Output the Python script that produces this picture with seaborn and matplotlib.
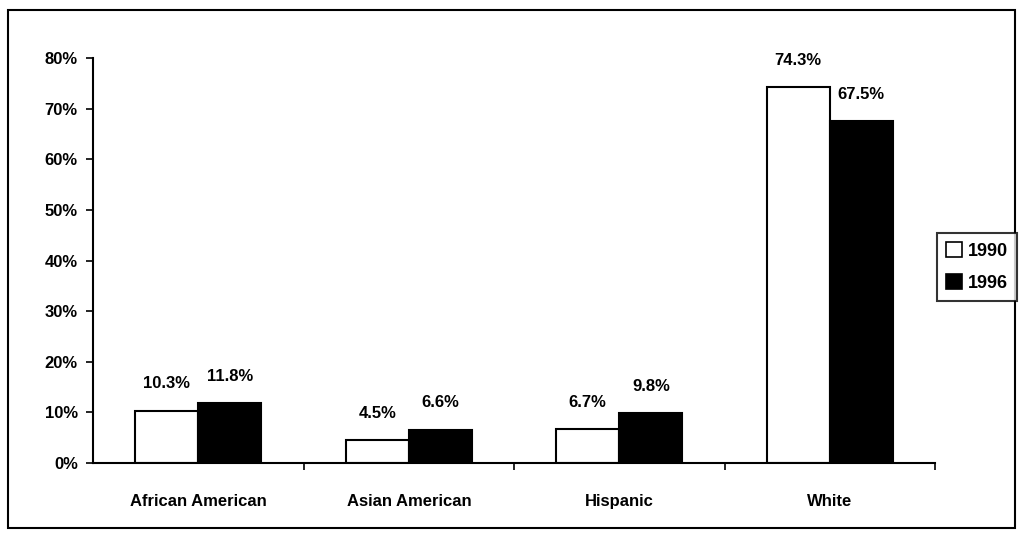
import matplotlib
matplotlib.use("Agg")
import matplotlib.pyplot as plt
from matplotlib.patches import Rectangle, Patch
import seaborn as sns
import pandas as pd

groups = ["African American", "Asian American", "Hispanic", "White"]
years = ["1990", "1996"]
share_1990 = [10.3, 4.5, 6.7, 74.3]
share_1996 = [11.8, 6.6, 9.8, 67.5]
yticks = [0, 10, 20, 30, 40, 50, 60, 70, 80]

df = pd.DataFrame({
    "group": groups * 2,
    "year": [years[0]] * len(groups) + [years[1]] * len(groups),
    "share": share_1990 + share_1996,
})

sns.set_theme(style="white")
plt.rcParams["font.family"] = ["Liberation Sans", "DejaVu Sans"]
plt.rcParams["font.weight"] = "bold"
plt.rcParams["text.color"] = "black"
plt.rcParams["xtick.color"] = "black"
plt.rcParams["ytick.color"] = "black"
plt.rcParams["axes.labelcolor"] = "black"

fig = plt.figure(figsize=(10.23, 5.39), dpi=100)
ax = fig.add_axes([0.091, 0.141, 0.823, 0.751])

palette = {"1990": "white", "1996": "black"}
sns.barplot(data=df, x="group", y="share", hue="year", palette=palette,
            width=0.6, edgecolor="black", linewidth=1.5, saturation=1,
            ax=ax, legend=False)

for container in ax.containers:
    ax.bar_label(container, labels=[f"{v:.1f}%" for v in container.datavalues],
                 padding=14, fontsize=12, fontweight="bold", color="black")

ax.set_xlim(-0.5, len(groups) - 0.5)
ax.set_ylim(0, 80)
ax.set_yticks(yticks)
ax.set_yticklabels([f"{t}%" for t in yticks], fontsize=12, fontweight="bold")
ax.set_xticks(range(len(groups)))
ax.set_xticklabels(groups, fontsize=12, fontweight="bold")
ax.set_xticks([i + 0.5 for i in range(len(groups))], minor=True)
ax.tick_params(axis="x", which="major", length=0, pad=22)
ax.tick_params(axis="x", which="minor", direction="out", length=5, width=1.2, color="black", bottom=True)
ax.tick_params(axis="y", direction="out", length=5, width=1.2, color="black", left=True, pad=6)
ax.set_xlabel("")
ax.set_ylabel("")

for side in ["top", "right"]:
    ax.spines[side].set_visible(False)
for side in ["left", "bottom"]:
    ax.spines[side].set_color("black")
    ax.spines[side].set_linewidth(1.5)

handles = [Patch(facecolor=palette[y], edgecolor="black", linewidth=1.2, label=y) for y in years]
leg = fig.legend(handles=handles, loc="center left", bbox_to_anchor=(0.916, 0.505),
                 frameon=True, fancybox=False, edgecolor="black", fontsize=13,
                 handlelength=0.9, handleheight=0.9, handletextpad=0.3,
                 borderpad=0.5, labelspacing=0.8, borderaxespad=0)
leg.get_frame().set_linewidth(1.5)
for t in leg.get_texts():
    t.set_fontweight("bold")
    t.set_color("black")

fig.patches.append(Rectangle((0.008, 0.02), 0.984, 0.962, transform=fig.transFigure,
                             fill=False, edgecolor="black", linewidth=1.5))

fig.savefig("out.png", dpi=100)
